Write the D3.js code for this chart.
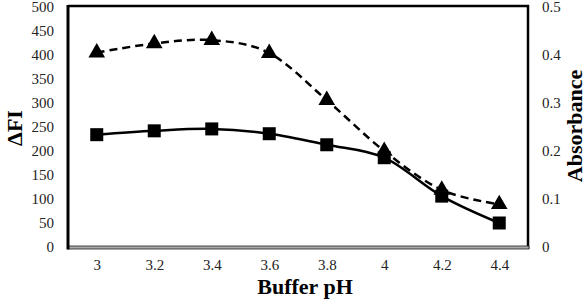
<!DOCTYPE html>
<html>
<head>
<meta charset="utf-8">
<script src="https://cdn.jsdelivr.net/npm/d3@7"></script>
</head>
<body style="margin:0">
<svg id="chart" width="588" height="300" font-family="Liberation Serif, serif"></svg>
<script>
// chart data
const phLabels = ["3", "3.2", "3.4", "3.6", "3.8", "4", "4.2", "4.4"];
const deltaFI = [234, 242, 246, 236, 213, 186, 106, 50];          // squares, solid
const absorbance = [0.405, 0.424, 0.431, 0.404, 0.306, 0.200, 0.119, 0.089]; // triangles, dashed
const leftTicks = [0, 50, 100, 150, 200, 250, 300, 350, 400, 450, 500];
const rightTicks = [0, 0.1, 0.2, 0.3, 0.4, 0.5];

const svg = d3.select("#chart");
const margin = { left: 68, right: 528, top: 7, bottom: 247 };

// serif everywhere (attribute + inline style)
function serif(sel) {
    sel.attr("font-family", "Liberation Serif, serif")
        .style("font-family", '"Liberation Serif", serif');
    return sel;
}

const x = d3.scalePoint()
    .domain(phLabels)
    .range([margin.left, margin.right])
    .padding(0.5);
const yLeft = d3.scaleLinear().domain([0, 500]).range([margin.bottom, margin.top]);
const yRight = d3.scaleLinear().domain([0, 0.5]).range([margin.bottom, margin.top]);

// frame
svg.append("line")
    .attr("x1", margin.left).attr("x2", margin.right + 1)
    .attr("y1", margin.top - 1).attr("y2", margin.top - 1)
    .attr("stroke", "#000").attr("stroke-width", 2.5);
svg.append("line")
    .attr("x1", margin.right).attr("x2", margin.right)
    .attr("y1", margin.top - 2).attr("y2", margin.bottom + 2)
    .attr("stroke", "#000").attr("stroke-width", 2.5);

// bottom axis: gray bar with dark edges
svg.append("rect")
    .attr("x", margin.left).attr("y", margin.bottom - 1)
    .attr("width", margin.right - margin.left + 1).attr("height", 3)
    .attr("fill", "#aaa").attr("stroke", "#222").attr("stroke-width", 0.8);

svg.append("line")
    .attr("x1", margin.left).attr("x2", margin.left)
    .attr("y1", margin.top - 2).attr("y2", margin.bottom + 2.5)
    .attr("stroke", "#000").attr("stroke-width", 3);

// axes (labels only, no tick marks)
const leftAxis = svg.append("g")
    .attr("transform", `translate(${margin.left - 14},0)`)
    .call(d3.axisLeft(yLeft).tickValues(leftTicks).tickSize(0).tickPadding(0));
const rightAxis = svg.append("g")
    .attr("transform", `translate(${margin.right + 14},0)`)
    .call(d3.axisRight(yRight).tickValues(rightTicks).tickSize(0).tickPadding(0)
        .tickFormat(d => d === 0 ? "0" : d3.format(".1f")(d)));
const bottomAxis = svg.append("g")
    .attr("transform", `translate(0,${margin.bottom + 12})`)
    .call(d3.axisBottom(x).tickSize(0).tickPadding(0));

[leftAxis, rightAxis, bottomAxis].forEach(g => {
    serif(g);
    g.select(".domain").remove();
    serif(g.selectAll("text"))
        .attr("font-size", 15)
        .attr("fill", "#222");
});

// lines
const curve = d3.curveCardinal.tension(0);
const fiLine = d3.line()
    .x((d, i) => x(phLabels[i]))
    .y(d => yLeft(d))
    .curve(curve);
const absLine = d3.line()
    .x((d, i) => x(phLabels[i]))
    .y(d => yRight(d))
    .curve(curve);

svg.append("path")
    .datum(absorbance)
    .attr("d", absLine)
    .attr("fill", "none")
    .attr("stroke", "#000")
    .attr("stroke-width", 2.5)
    .attr("stroke-dasharray", "8,5");

svg.append("path")
    .datum(deltaFI)
    .attr("d", fiLine)
    .attr("fill", "none")
    .attr("stroke", "#000")
    .attr("stroke-width", 2.5);

// markers
svg.append("g").selectAll("path")
    .data(absorbance)
    .join("path")
    .attr("transform", (d, i) => `translate(${x(phLabels[i])},${yRight(d)})`)
    .attr("d", d3.symbol(d3.symbolTriangle, 120))
    .attr("fill", "#000");

svg.append("g").selectAll("rect")
    .data(deltaFI)
    .join("rect")
    .attr("x", (d, i) => x(phLabels[i]) - 6.5)
    .attr("y", d => yLeft(d) - 6.5)
    .attr("width", 13)
    .attr("height", 13)
    .attr("fill", "#000");

// titles
const titles = [
    { text: "Buffer pH", transform: `translate(${(margin.left + margin.right) / 2 + 7},294)` },
    { text: "ΔFI", transform: "translate(22,128) rotate(-90)" },
    { text: "Absorbance", transform: "translate(582,126) rotate(-90)" }
];
serif(svg.append("g").selectAll("text")
    .data(titles)
    .join("text")
    .attr("transform", d => d.transform)
    .attr("text-anchor", "middle")
    .attr("font-size", 22)
    .attr("font-weight", "bold")
    .text(d => d.text));
</script>
</body>
</html>
